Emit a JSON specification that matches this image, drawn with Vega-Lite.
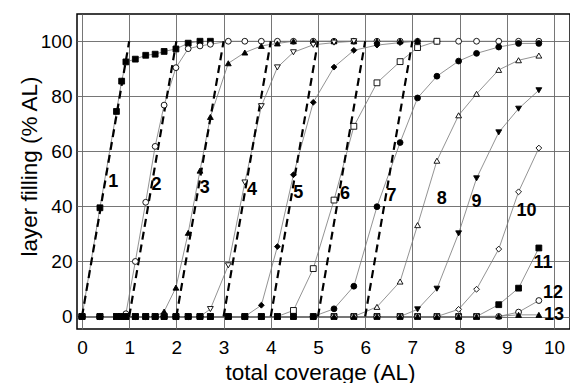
{
  "$schema": "https://vega.github.io/schema/vega-lite/v6.json",
  "width": 493,
  "height": 315,
  "autosize": {"type": "none"},
  "padding": {"left": 77, "top": 14, "right": 0, "bottom": 54},
  "background": "white",
  "config": {
    "view": {"stroke": "black", "strokeWidth": 1.5},
    "font": "Liberation Sans",
    "axis": {
      "domain": false,
      "ticks": false,
      "grid": true,
      "gridColor": "#666666",
      "gridWidth": 0.9,
      "labelFontSize": 19,
      "labelColor": "black",
      "labelFont": "Liberation Sans",
      "titleFont": "Liberation Sans",
      "titleFontSize": 22.5,
      "titleFontWeight": "normal",
      "titleColor": "black"
    }
  },
  "datasets": {
    "meas": [
      {"n":1,"x":0,"y":0},{"n":1,"x":0.38,"y":39.5},{"n":1,"x":0.73,"y":74.5},{"n":1,"x":0.84,"y":85.5},{"n":1,"x":0.93,"y":92.5},{"n":1,"x":1.13,"y":93.5},{"n":1,"x":1.35,"y":94.9},{"n":1,"x":1.55,"y":95.3},{"n":1,"x":1.74,"y":96.3},{"n":1,"x":1.99,"y":97.2},{"n":1,"x":2.25,"y":99.3},{"n":1,"x":2.5,"y":100},{"n":1,"x":2.72,"y":100},
      {"n":2,"x":0,"y":0},{"n":2,"x":0.38,"y":0},{"n":2,"x":0.73,"y":0},{"n":2,"x":0.84,"y":0},{"n":2,"x":0.93,"y":1},{"n":2,"x":1.13,"y":20},{"n":2,"x":1.35,"y":41.5},{"n":2,"x":1.55,"y":61.8},{"n":2,"x":1.74,"y":76.8},{"n":2,"x":1.99,"y":90.4},{"n":2,"x":2.25,"y":97.3},{"n":2,"x":2.5,"y":98.3},{"n":2,"x":2.72,"y":98.9},{"n":2,"x":3.1,"y":100},{"n":2,"x":3.45,"y":100},{"n":2,"x":3.8,"y":100},{"n":2,"x":4.14,"y":100},{"n":2,"x":4.48,"y":100},{"n":2,"x":4.9,"y":100},{"n":2,"x":5.34,"y":100},{"n":2,"x":5.76,"y":100},{"n":2,"x":6.25,"y":100},{"n":2,"x":6.74,"y":100},{"n":2,"x":7.11,"y":100},{"n":2,"x":7.52,"y":100},{"n":2,"x":7.98,"y":100},{"n":2,"x":8.36,"y":100},{"n":2,"x":8.83,"y":100},{"n":2,"x":9.25,"y":100},{"n":2,"x":9.68,"y":100},
      {"n":3,"x":0,"y":0},{"n":3,"x":0.38,"y":0},{"n":3,"x":0.73,"y":0},{"n":3,"x":0.84,"y":0},{"n":3,"x":0.93,"y":0},{"n":3,"x":1.13,"y":0},{"n":3,"x":1.35,"y":0},{"n":3,"x":1.55,"y":0},{"n":3,"x":1.74,"y":1.8},{"n":3,"x":1.99,"y":10.5},{"n":3,"x":2.25,"y":30.4},{"n":3,"x":2.5,"y":53},{"n":3,"x":2.72,"y":72.5},{"n":3,"x":3.1,"y":92},{"n":3,"x":3.45,"y":95.9},{"n":3,"x":3.8,"y":98.3},{"n":3,"x":4.14,"y":99.2},{"n":3,"x":4.48,"y":100},{"n":3,"x":4.9,"y":100},{"n":3,"x":5.34,"y":100},{"n":3,"x":5.76,"y":100},{"n":3,"x":6.25,"y":100},{"n":3,"x":6.74,"y":100},{"n":3,"x":7.11,"y":100},
      {"n":4,"x":0,"y":0},{"n":4,"x":0.38,"y":0},{"n":4,"x":0.73,"y":0},{"n":4,"x":0.84,"y":0},{"n":4,"x":0.93,"y":0},{"n":4,"x":1.13,"y":0},{"n":4,"x":1.35,"y":0},{"n":4,"x":1.55,"y":0},{"n":4,"x":1.74,"y":0},{"n":4,"x":1.99,"y":0},{"n":4,"x":2.25,"y":0},{"n":4,"x":2.5,"y":0},{"n":4,"x":2.72,"y":2.7},{"n":4,"x":3.1,"y":18.6},{"n":4,"x":3.45,"y":48.7},{"n":4,"x":3.8,"y":76.4},{"n":4,"x":4.14,"y":90.5},{"n":4,"x":4.48,"y":96},{"n":4,"x":4.9,"y":98.7},{"n":4,"x":5.34,"y":99.5},{"n":4,"x":5.76,"y":100},
      {"n":5,"x":0,"y":0},{"n":5,"x":0.38,"y":0},{"n":5,"x":0.73,"y":0},{"n":5,"x":0.84,"y":0},{"n":5,"x":0.93,"y":0},{"n":5,"x":1.13,"y":0},{"n":5,"x":1.35,"y":0},{"n":5,"x":1.55,"y":0},{"n":5,"x":1.74,"y":0},{"n":5,"x":1.99,"y":0},{"n":5,"x":2.25,"y":0},{"n":5,"x":2.5,"y":0},{"n":5,"x":2.72,"y":0},{"n":5,"x":3.1,"y":0},{"n":5,"x":3.45,"y":0},{"n":5,"x":3.8,"y":4.1},{"n":5,"x":4.14,"y":25.4},{"n":5,"x":4.48,"y":51.5},{"n":5,"x":4.9,"y":77.8},{"n":5,"x":5.34,"y":90.6},{"n":5,"x":5.76,"y":96.7},{"n":5,"x":6.25,"y":98.6},{"n":5,"x":6.74,"y":99.5},{"n":5,"x":7.11,"y":100},
      {"n":6,"x":0,"y":0},{"n":6,"x":0.38,"y":0},{"n":6,"x":0.73,"y":0},{"n":6,"x":0.84,"y":0},{"n":6,"x":0.93,"y":0},{"n":6,"x":1.13,"y":0},{"n":6,"x":1.35,"y":0},{"n":6,"x":1.55,"y":0},{"n":6,"x":1.74,"y":0},{"n":6,"x":1.99,"y":0},{"n":6,"x":2.25,"y":0},{"n":6,"x":2.5,"y":0},{"n":6,"x":2.72,"y":0},{"n":6,"x":3.1,"y":0},{"n":6,"x":3.45,"y":0},{"n":6,"x":3.8,"y":0},{"n":6,"x":4.14,"y":0},{"n":6,"x":4.48,"y":2.2},{"n":6,"x":4.9,"y":17.4},{"n":6,"x":5.34,"y":42.3},{"n":6,"x":5.76,"y":69.1},{"n":6,"x":6.25,"y":84.9},{"n":6,"x":6.74,"y":92.6},{"n":6,"x":7.11,"y":97.7},{"n":6,"x":7.52,"y":100},
      {"n":8,"x":0,"y":0},{"n":8,"x":0.38,"y":0},{"n":8,"x":0.73,"y":0},{"n":8,"x":0.84,"y":0},{"n":8,"x":0.93,"y":0},{"n":8,"x":1.13,"y":0},{"n":8,"x":1.35,"y":0},{"n":8,"x":1.55,"y":0},{"n":8,"x":1.74,"y":0},{"n":8,"x":1.99,"y":0},{"n":8,"x":2.25,"y":0},{"n":8,"x":2.5,"y":0},{"n":8,"x":2.72,"y":0},{"n":8,"x":3.1,"y":0},{"n":8,"x":3.45,"y":0},{"n":8,"x":3.8,"y":0},{"n":8,"x":4.14,"y":0},{"n":8,"x":4.48,"y":0},{"n":8,"x":4.9,"y":0},{"n":8,"x":5.34,"y":0},{"n":8,"x":5.76,"y":0},{"n":8,"x":6.25,"y":3.5},{"n":8,"x":6.74,"y":12.7},{"n":8,"x":7.11,"y":33.2},{"n":8,"x":7.52,"y":56.6},{"n":8,"x":7.98,"y":73.1},{"n":8,"x":8.36,"y":80.9},{"n":8,"x":8.83,"y":89.6},{"n":8,"x":9.25,"y":93.1},{"n":8,"x":9.68,"y":94.8},
      {"n":9,"x":0,"y":0},{"n":9,"x":0.38,"y":0},{"n":9,"x":0.73,"y":0},{"n":9,"x":0.84,"y":0},{"n":9,"x":0.93,"y":0},{"n":9,"x":1.13,"y":0},{"n":9,"x":1.35,"y":0},{"n":9,"x":1.55,"y":0},{"n":9,"x":1.74,"y":0},{"n":9,"x":1.99,"y":0},{"n":9,"x":2.25,"y":0},{"n":9,"x":2.5,"y":0},{"n":9,"x":2.72,"y":0},{"n":9,"x":3.1,"y":0},{"n":9,"x":3.45,"y":0},{"n":9,"x":3.8,"y":0},{"n":9,"x":4.14,"y":0},{"n":9,"x":4.48,"y":0},{"n":9,"x":4.9,"y":0},{"n":9,"x":5.34,"y":0},{"n":9,"x":5.76,"y":0},{"n":9,"x":6.25,"y":0},{"n":9,"x":6.74,"y":0},{"n":9,"x":7.11,"y":2.6},{"n":9,"x":7.52,"y":10.1},{"n":9,"x":7.98,"y":30.2},{"n":9,"x":8.36,"y":50.2},{"n":9,"x":8.83,"y":66.9},{"n":9,"x":9.25,"y":75.5},{"n":9,"x":9.68,"y":82.2},
      {"n":10,"x":0,"y":0},{"n":10,"x":0.38,"y":0},{"n":10,"x":0.73,"y":0},{"n":10,"x":0.84,"y":0},{"n":10,"x":0.93,"y":0},{"n":10,"x":1.13,"y":0},{"n":10,"x":1.35,"y":0},{"n":10,"x":1.55,"y":0},{"n":10,"x":1.74,"y":0},{"n":10,"x":1.99,"y":0},{"n":10,"x":2.25,"y":0},{"n":10,"x":2.5,"y":0},{"n":10,"x":2.72,"y":0},{"n":10,"x":3.1,"y":0},{"n":10,"x":3.45,"y":0},{"n":10,"x":3.8,"y":0},{"n":10,"x":4.14,"y":0},{"n":10,"x":4.48,"y":0},{"n":10,"x":4.9,"y":0},{"n":10,"x":5.34,"y":0},{"n":10,"x":5.76,"y":0},{"n":10,"x":6.25,"y":0},{"n":10,"x":6.74,"y":0},{"n":10,"x":7.11,"y":0},{"n":10,"x":7.52,"y":0},{"n":10,"x":7.98,"y":2.6},{"n":10,"x":8.36,"y":9.9},{"n":10,"x":8.83,"y":24.5},{"n":10,"x":9.25,"y":45.3},{"n":10,"x":9.68,"y":61.2},
      {"n":11,"x":0,"y":0},{"n":11,"x":0.38,"y":0},{"n":11,"x":0.73,"y":0},{"n":11,"x":0.84,"y":0},{"n":11,"x":0.93,"y":0},{"n":11,"x":1.13,"y":0},{"n":11,"x":1.35,"y":0},{"n":11,"x":1.55,"y":0},{"n":11,"x":1.74,"y":0},{"n":11,"x":1.99,"y":0},{"n":11,"x":2.25,"y":0},{"n":11,"x":2.5,"y":0},{"n":11,"x":2.72,"y":0},{"n":11,"x":3.1,"y":0},{"n":11,"x":3.45,"y":0},{"n":11,"x":3.8,"y":0},{"n":11,"x":4.14,"y":0},{"n":11,"x":4.48,"y":0},{"n":11,"x":4.9,"y":0},{"n":11,"x":5.34,"y":0},{"n":11,"x":5.76,"y":0},{"n":11,"x":6.25,"y":0},{"n":11,"x":6.74,"y":0},{"n":11,"x":7.11,"y":0},{"n":11,"x":7.52,"y":0},{"n":11,"x":7.98,"y":0},{"n":11,"x":8.36,"y":0},{"n":11,"x":8.83,"y":4.3},{"n":11,"x":9.25,"y":10.3},{"n":11,"x":9.68,"y":24.9},
      {"n":12,"x":0,"y":0},{"n":12,"x":0.38,"y":0},{"n":12,"x":0.73,"y":0},{"n":12,"x":0.84,"y":0},{"n":12,"x":0.93,"y":0},{"n":12,"x":1.13,"y":0},{"n":12,"x":1.35,"y":0},{"n":12,"x":1.55,"y":0},{"n":12,"x":1.74,"y":0},{"n":12,"x":1.99,"y":0},{"n":12,"x":2.25,"y":0},{"n":12,"x":2.5,"y":0},{"n":12,"x":2.72,"y":0},{"n":12,"x":3.1,"y":0},{"n":12,"x":3.45,"y":0},{"n":12,"x":3.8,"y":0},{"n":12,"x":4.14,"y":0},{"n":12,"x":4.48,"y":0},{"n":12,"x":4.9,"y":0},{"n":12,"x":5.34,"y":0},{"n":12,"x":5.76,"y":0},{"n":12,"x":6.25,"y":0},{"n":12,"x":6.74,"y":0},{"n":12,"x":7.11,"y":0},{"n":12,"x":7.52,"y":0},{"n":12,"x":7.98,"y":0},{"n":12,"x":8.36,"y":0},{"n":12,"x":8.83,"y":0},{"n":12,"x":9.25,"y":1.6},{"n":12,"x":9.68,"y":5.8},
      {"n":13,"x":0,"y":0},{"n":13,"x":0.38,"y":0},{"n":13,"x":0.73,"y":0},{"n":13,"x":0.84,"y":0},{"n":13,"x":0.93,"y":0},{"n":13,"x":1.13,"y":0},{"n":13,"x":1.35,"y":0},{"n":13,"x":1.55,"y":0},{"n":13,"x":1.74,"y":0},{"n":13,"x":1.99,"y":0},{"n":13,"x":2.25,"y":0},{"n":13,"x":2.5,"y":0},{"n":13,"x":2.72,"y":0},{"n":13,"x":3.1,"y":0},{"n":13,"x":3.45,"y":0},{"n":13,"x":3.8,"y":0},{"n":13,"x":4.14,"y":0},{"n":13,"x":4.48,"y":0},{"n":13,"x":4.9,"y":0},{"n":13,"x":5.34,"y":0},{"n":13,"x":5.76,"y":0},{"n":13,"x":6.25,"y":0},{"n":13,"x":6.74,"y":0},{"n":13,"x":7.11,"y":0},{"n":13,"x":7.52,"y":0},{"n":13,"x":7.98,"y":0},{"n":13,"x":8.36,"y":0},{"n":13,"x":8.83,"y":0.1},{"n":13,"x":9.25,"y":0.6},{"n":13,"x":9.68,"y":0.6},
      {"n":7,"x":0,"y":0},{"n":7,"x":0.38,"y":0},{"n":7,"x":0.73,"y":0},{"n":7,"x":0.84,"y":0},{"n":7,"x":0.93,"y":0},{"n":7,"x":1.13,"y":0},{"n":7,"x":1.35,"y":0},{"n":7,"x":1.55,"y":0},{"n":7,"x":1.74,"y":0},{"n":7,"x":1.99,"y":0},{"n":7,"x":2.25,"y":0},{"n":7,"x":2.5,"y":0},{"n":7,"x":2.72,"y":0},{"n":7,"x":3.1,"y":0},{"n":7,"x":3.45,"y":0},{"n":7,"x":3.8,"y":0},{"n":7,"x":4.14,"y":0},{"n":7,"x":4.48,"y":0},{"n":7,"x":4.9,"y":0},{"n":7,"x":5.34,"y":2.8},{"n":7,"x":5.76,"y":11},{"n":7,"x":6.25,"y":39.9},{"n":7,"x":6.74,"y":63.2},{"n":7,"x":7.11,"y":79.4},{"n":7,"x":7.52,"y":87.3},{"n":7,"x":7.98,"y":92.8},{"n":7,"x":8.36,"y":95.6},{"n":7,"x":8.83,"y":97.9},{"n":7,"x":9.25,"y":99.2},{"n":7,"x":9.68,"y":99.2}
    ],
    "ideal": [
      {"line":1,"x":0,"y":0},{"line":1,"x":1,"y":100},
      {"line":2,"x":1,"y":0},{"line":2,"x":2,"y":100},
      {"line":3,"x":2,"y":0},{"line":3,"x":3,"y":100},
      {"line":4,"x":3,"y":0},{"line":4,"x":4,"y":100},
      {"line":5,"x":4,"y":0},{"line":5,"x":5,"y":100},
      {"line":6,"x":5,"y":0},{"line":6,"x":6,"y":100},
      {"line":7,"x":6,"y":0},{"line":7,"x":7,"y":100}
    ],
    "labels": [
      {"label":"1","x":0.66,"y":48.7},
      {"label":"2","x":1.58,"y":47.8},
      {"label":"3","x":2.6,"y":46.6},
      {"label":"4","x":3.6,"y":46},
      {"label":"5","x":4.58,"y":45},
      {"label":"6","x":5.57,"y":44.4},
      {"label":"7","x":6.56,"y":43.8},
      {"label":"8","x":7.62,"y":42.7},
      {"label":"9","x":8.36,"y":41.7},
      {"label":"10","x":9.42,"y":38.4},
      {"label":"11","x":9.77,"y":19.6},
      {"label":"12","x":9.98,"y":8.5},
      {"label":"13","x":10.0,"y":0.4}
    ]
  },
  "encoding": {
    "x": {
      "field": "x",
      "type": "quantitative",
      "scale": {"domain": [-0.106, 10.34], "nice": false, "zero": false},
      "axis": {
        "values": [0,1,2,3,4,5,6,7,8,9,10],
        "labelPadding": 9,
        "title": "total coverage (AL)",
        "titleX": 243,
        "titleY": 50,
        "titleAlign": "center",
        "titleBaseline": "alphabetic"
      }
    },
    "y": {
      "field": "y",
      "type": "quantitative",
      "scale": {"domain": [-4.54, 109.9], "nice": false, "zero": false},
      "axis": {
        "values": [0,20,40,60,80,100],
        "labelPadding": 5,
        "title": "layer filling (% AL)",
        "titleX": -41,
        "titleY": 152,
        "titleAlign": "center",
        "titleBaseline": "alphabetic"
      }
    }
  },
  "layer": [
    {
      "data": {"name": "meas"},
      "mark": {"type": "line", "color": "#777777", "strokeWidth": 0.8},
      "encoding": {"detail": {"field": "n", "type": "nominal"}}
    },
    {
      "data": {"name": "ideal"},
      "mark": {"type": "line", "color": "black", "strokeWidth": 2.2, "strokeDash": [8, 5]},
      "encoding": {"detail": {"field": "line", "type": "nominal"}}
    },
    {
      "data": {"name": "meas"},
      "mark": {"type": "point", "filled": true, "size": 34, "stroke": "black", "strokeWidth": 0.9, "opacity": 1},
      "encoding": {
        "shape": {
          "field": "n",
          "type": "nominal",
          "scale": {
            "domain": [1,2,3,4,5,6,7,8,9,10,11,12,13],
            "range": ["square","circle","triangle-up","triangle-down","diamond","square","circle","triangle-up","triangle-down","diamond","square","circle","triangle-up"]
          },
          "legend": null
        },
        "fill": {
          "field": "n",
          "type": "nominal",
          "scale": {
            "domain": [1,2,3,4,5,6,7,8,9,10,11,12,13],
            "range": ["black","white","black","white","black","white","black","white","black","white","black","white","black"]
          },
          "legend": null
        }
      }
    },
    {
      "data": {"name": "labels"},
      "mark": {"type": "text", "fontSize": 18, "fontWeight": "bold", "align": "center", "baseline": "middle", "color": "black"},
      "encoding": {"text": {"field": "label", "type": "nominal"}}
    }
  ]
}
